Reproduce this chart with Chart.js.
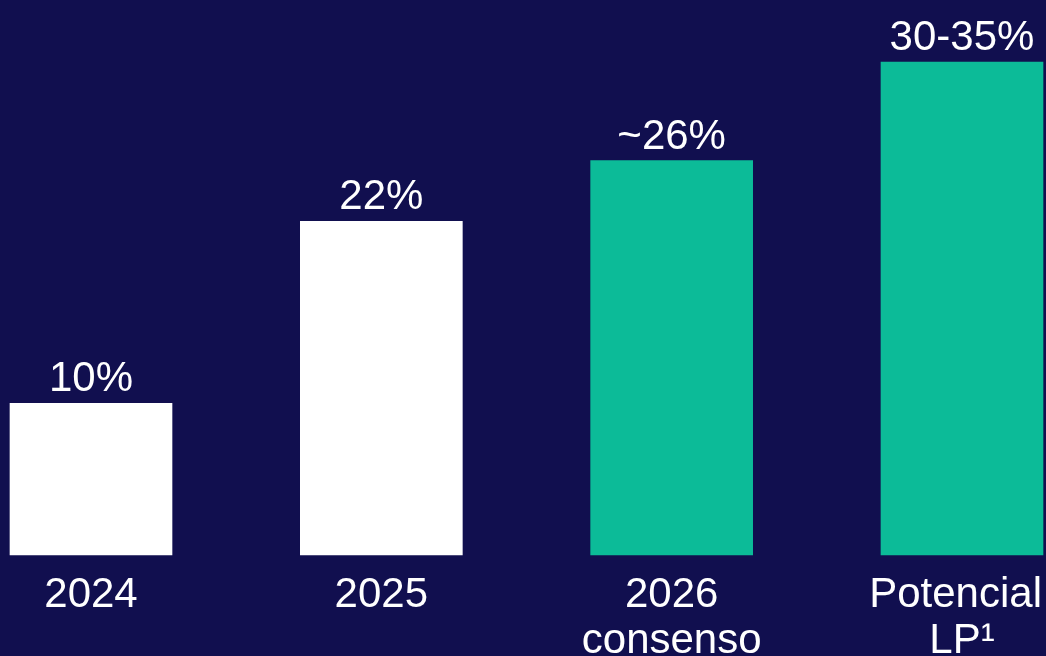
<!DOCTYPE html>
<html>
<head>
<meta charset="utf-8">
<script src="https://cdn.jsdelivr.net/npm/chart.js@4.4.1/dist/chart.umd.min.js"></script>
<style>
    html, body { margin: 0; padding: 0; background: #110f4f; }
    canvas { display: block; }
</style>
</head>
<body>
<canvas id="chart" width="1046" height="656"></canvas>
<script>
const categories = [['2024'], ['2025'], ['2026', 'consenso'], ['Potencial', 'LP¹']]
// LP bar drawn at the middle of its 30-35% range
const values = [10, 22, 26, 32.5]
const valueLabels = ['10%', '22%', '~26%', '30-35%']
const barColors = ['#ffffff', '#ffffff', '#0cbb98', '#0cbb98']

const FONT = '42px "Liberation Sans", Arial, sans-serif'

const barLabels = {
    id: 'barLabels',
    afterDatasetsDraw(chart) {
        const { ctx, chartArea } = chart
        const meta = chart.getDatasetMeta(0)
        const xScale = chart.scales.x
        ctx.save()
        ctx.fillStyle = '#ffffff'
        ctx.font = FONT
        ctx.textAlign = 'center'
        ctx.textBaseline = 'alphabetic'
        meta.data.forEach((bar, i) => {
            ctx.fillText(valueLabels[i], bar.x, bar.y - 12)
        })
        categories.forEach((lines, i) => {
            const cx = xScale.getPixelForValue(i)
            lines.forEach((line, j) => {
                // keep long labels inside the canvas
                const half = ctx.measureText(line).width / 2
                const x = Math.min(cx, chart.width - 4 - half)
                ctx.fillText(line, x, chartArea.bottom + 52 + j * 46)
            })
        })
        ctx.restore()
    }
}

new Chart(document.getElementById('chart'), {
    type: 'bar',
    data: {
        labels: categories,
        datasets: [
            {
                data: values,
                backgroundColor: barColors,
                borderWidth: 0,
                barThickness: 162,
                clip: false
            }
        ]
    },
    options: {
        animation: false,
        responsive: false,
        devicePixelRatio: 1,
        layout: {
            padding: { left: 91, right: 84, top: 0, bottom: 101 }
        },
        plugins: {
            legend: { display: false },
            tooltip: { enabled: false }
        },
        scales: {
            x: {
                type: 'category',
                offset: false,
                display: false
            },
            y: {
                display: false,
                min: 0,
                max: 36.59
            }
        }
    },
    plugins: [barLabels]
})
</script>
</body>
</html>
